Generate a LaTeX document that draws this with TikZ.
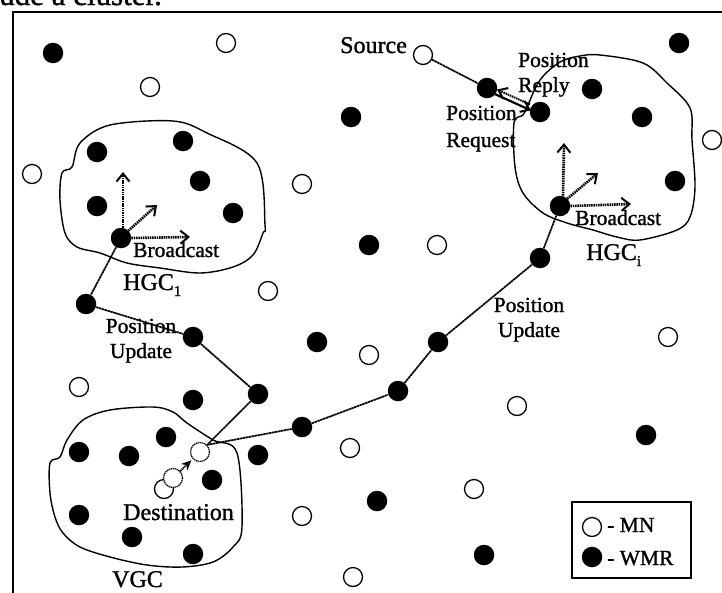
\documentclass[tikz,border=0pt]{standalone}
\usepackage{fontspec}
\setmainfont[FakeBold=1.2]{Liberation Serif}
\usetikzlibrary{arrows.meta,calc}
\begin{document}
\begin{tikzpicture}[x=1pt,y=-1pt,
  wmr/.style={circle,fill=black,inner sep=0,minimum size=20.5pt},
  mn/.style={circle,draw=black,fill=white,line width=1.3pt,inner sep=0,minimum size=19pt},
  ghost/.style={mn,dash pattern=on 1.3pt off 0.7pt},
  link/.style={line width=1.7pt,dash pattern=on 2.5pt off 0.5pt},
  bcast/.style={line width=2.6pt,dash pattern=on 1.5pt off 0.8pt,-{Straight Barb[length=8pt,width=13pt,line width=2pt]}},
  cluster/.style={line width=1.4pt},
  lbl/.style={font=\fontsize{24}{28}\selectfont,inner sep=0,anchor=base west},
  slbl/.style={font=\fontsize{21.5}{25}\selectfont,inner sep=0,anchor=base west},
  clbl/.style={font=\fontsize{21.5}{25}\selectfont,inner sep=0,anchor=base},
]
\useasboundingbox (0,0) rectangle (722,592);
\clip (0,0) rectangle (722,592);

% cut-off line of text above the frame
\node[font=\fontsize{31}{31}\selectfont,inner sep=0,anchor=base west] (cut) at (-1,5) {ude a cluster.};

% frame
\draw[line width=2.2pt] (13,12) rectangle (740,610);

% cluster outlines
\draw[cluster] plot[smooth cycle,tension=0.55] coordinates {(173,121) (110,125) (80,143) (72,167) (62,173) (60,200) (65,233) (77,247) (100,253) (127,263) (160,268) (200,273) (233,267) (253,255) (263,233) (265,225) (257,163) (207,133)};
\draw[cluster] plot[smooth cycle,tension=0.55] coordinates {(600,55) (643,63) (667,83) (690,108) (692,140) (695,187) (690,217) (677,230) (640,240) (617,237) (593,230) (567,223) (543,213) (523,193) (515,167) (514,123) (523,115) (527,107) (540,80) (560,62) (580,56)};
\draw[cluster] plot[smooth cycle,tension=0.55] coordinates {(153,407) (110,410) (83,420) (67,440) (60,457) (50,463) (50,493) (55,517) (63,533) (80,547) (110,557) (147,565) (182,567) (213,562) (233,547) (242,527) (237,453) (213,440) (187,423) (173,412)};

% WMR nodes
\foreach \n/\p in {w1/{(53,53)},w2/{(97,152)},w3/{(183,141)},w4/{(200,181)},w5/{(97,206)},w6/{(233,213)},
  h1/{(121,238)},w8/{(86,304)},w9/{(193,337)},w10/{(258,394)},w11/{(317,342)},w12/{(351,117)},w13/{(369,245)},
  ra/{(487,88)},rb/{(540,112)},w16/{(592,89)},w17/{(642,117)},w18/{(679,43)},w19/{(675,181)},hi/{(560,206)},
  w21/{(540,258)},w22/{(438,342)},w23/{(398,391)},w24/{(302,427)},w25/{(193,400)},w26/{(166,437)},
  w27/{(79,452)},w28/{(129,456)},w29/{(258,455)},w30/{(212,480)},w31/{(79,515)},w32/{(132,537)},
  w33/{(193,554)},w34/{(377,501)},w35/{(484,555)},w36/{(646,435)}}
  \node[wmr] (\n) at \p {};

% MN nodes
\foreach \n/\p in {m1/{(226,43)},m2/{(150,87)},m3/{(32,174)},m4/{(302,184)},m5/{(268,291)},src/{(423,55)},
  m7/{(712,140)},m8/{(437,245)},m9/{(668,337)},m10/{(369,355)},m11/{(79,387)},m12/{(517,406)},
  m13/{(350,448)},m14/{(302,516)},m15/{(474,489)},m16/{(353,577)},d0/{(164,489)}}
  \node[mn] (\n) at \p {};
\node[ghost] (d1) at (173,478) {};
\node[ghost] (dest) at (200,452) {};

% routes
\draw[link] (h1) -- (w8) -- (w9) -- (w10) -- (dest.north east);
\draw[link] (dest.north east) -- (w24) -- (w23) -- (w22) -- (w21) -- (hi);
\draw[link] (src) -- (ra);

% position request / reply
\draw[line width=2.2pt,shorten <=9pt,shorten >=10pt,-{Straight Barb[length=8pt,width=12pt,line width=2pt]}]
  ([yshift=-2.5pt]ra.center) -- ([yshift=-2.5pt]rb.center);
\draw[line width=2pt,dash pattern=on 1.5pt off 0.8pt,shorten <=11pt,shorten >=11pt,-{Straight Barb[length=8pt,width=12pt,line width=2pt]}]
  ([yshift=3pt]rb.center) -- ([yshift=3pt]ra.center);

% broadcasts
\coordinate (b1u) at (123,172);
\coordinate (b1d) at (157,205);
\coordinate (b1r) at (190,237);
\draw[bcast] ([xshift=2pt]h1.north) -- (b1u);
\draw[bcast] (h1.north east) -- (b1d);
\draw[bcast] (h1.east) -- (b1r);
\coordinate (biu) at (564,143);
\coordinate (bid) at (598,173);
\coordinate (bir) at (631,204);
\draw[bcast] ([xshift=3pt]hi.north) -- (biu);
\draw[bcast] (hi.north east) -- (bid);
\draw[bcast] (hi.east) -- (bir);

% destination movement
\draw[line width=1.8pt,dash pattern=on 1.3pt off 0.7pt,-{Stealth[open,length=10pt,width=9pt,line width=1.6pt]}]
  (d1) -- ($(d1)!0.68!(dest)$);

% labels
\node[lbl] (tsrc) at (340,53) {Source};
\node[slbl] (tpr1) at (518,67) {Position};
\node[slbl] (tpr2) at (518,92) {Reply};
\node[slbl] (tpq1) at (446,120) {Position};
\node[slbl] (tpq2) at (446,147) {Request};
\node[slbl] (tbi) at (575,225) {Broadcast};
\node[lbl] (thi) at (586,260) {HGC\raisebox{-6pt}{\fontsize{15}{15}\selectfont i}};
\node[slbl] (tb1) at (133,257) {Broadcast};
\node[lbl] (th1) at (123,290) {HGC\raisebox{-6pt}{\fontsize{15}{15}\selectfont 1}};
\node[clbl] (tpu1) at (141,333) {Position};
\node[clbl] (tpu2) at (141,358) {Update};
\node[clbl] (tpu3) at (529,312) {Position};
\node[clbl] (tpu4) at (529,337) {Update};
\node[lbl] (tdst) at (123,520) {Destination};
\node[lbl] (tvgc) at (112,587) {VGC};

% legend
\node[draw,line width=1.6pt,minimum width=119pt,minimum height=76pt,inner sep=0] (legend) at (631.5,540) {};
\node[mn] (lmn) at (592,527) {};
\node[wmr] (lwmr) at (592,557) {};
\node[slbl] (tmn) at (607,532) {- MN};
\node[slbl] (twmr) at (607,565) {- WMR};
\end{tikzpicture}
\end{document}
